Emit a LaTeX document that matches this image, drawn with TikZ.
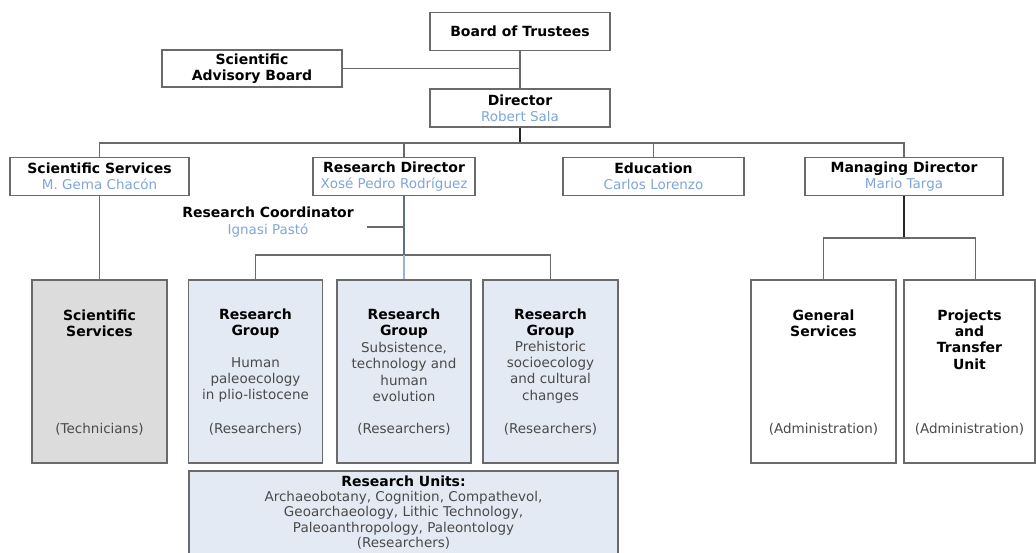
\documentclass[tikz,border=0pt]{standalone}
\usepackage{fontspec}
\setmainfont{DejaVu Sans}
\definecolor{linegray}{HTML}{6A6A6A}
\definecolor{namecol}{HTML}{7FA6D8}
\definecolor{bodycol}{HTML}{4A4A4A}
\definecolor{grayfill}{HTML}{DCDCDC}
\definecolor{bluefill}{HTML}{E4EAF3}
\definecolor{rdline}{HTML}{5F6F88}
\definecolor{rdlight}{HTML}{9DB2D0}
\newcommand{\ttlfont}{\fontsize{14}{16.2}\selectfont\bfseries}
\newcommand{\bodyfont}{\fontsize{13.5}{16.2}\selectfont}
\newcommand{\nm}[1]{{\bodyfont\mdseries\color{namecol}#1}}

\begin{document}
\begin{tikzpicture}[x = 1pt, y = -1pt,
  topbox/.style = {draw=linegray, line width=1.2pt, fill=white, minimum height=38pt, inner sep=0pt, align=center, font=\ttlfont},
  unitbox/.style = {draw=linegray, line width=1.2pt, minimum height=183pt, inner sep=0pt},
  ttl/.style = {font=\ttlfont, align=center, inner sep=0pt},
  txt/.style = {font=\bodyfont, text=bodycol, align=center, inner sep=0pt},
  conn/.style = {draw=linegray, line width=1.1pt},]

\useasboundingbox (0,0) rectangle (1036,552);

\node[topbox, minimum width=180pt] (BT) at (520,31.5) {Board of Trustees};
\node[topbox, minimum width=180pt, minimum height=37pt] (SAB) at (252,68.5) {Scientific\\Advisory Board};
\node[topbox, minimum width=180pt] (DIR) at (520,108) {Director\\\nm{Robert Sala}};
\node[topbox, minimum width=179pt] (SS) at (99.5,176.5) {Scientific Services\\\nm{M. Gema Chacón}};
\node[topbox, minimum width=162pt] (RD) at (394,176.5) {Research Director\\\nm{Xosé Pedro Rodríguez}};
\node[topbox, minimum width=181pt] (ED) at (653.5,176.5) {Education\\\nm{Carlos Lorenzo}};
\node[topbox, minimum width=198pt] (MD) at (904,176.5) {Managing Director\\\nm{Mario Targa}};
\node[ttl] (RC) at (268,222) {Research Coordinator\\\nm{Ignasi Pastó}};

\node[unitbox, fill=grayfill, minimum width=135pt] (SSB) at (99.5,371.5) {};
\node[unitbox, fill=bluefill, minimum width=134pt] (RG1) at (255.5,371.5) {};
\node[unitbox, fill=bluefill, minimum width=134pt] (RG2) at (404,371.5) {};
\node[unitbox, fill=bluefill, minimum width=135pt] (RG3) at (550.5,371.5) {};
\node[unitbox, fill=white, minimum width=145pt] (GS) at (823.5,371.5) {};
\node[unitbox, fill=white, minimum width=131pt] (PT) at (969.5,371.5) {};
\node[unitbox, fill=bluefill, minimum width=429pt, minimum height=84pt] (RU) at (403.5,513) {};

\node[ttl] (SSBt) at (99.5,323.5) {Scientific\\Services};
\node[txt] (SSBn) at (99.5,429) {(Technicians)};
\node[ttl] (RG1t) at (255.5,323.5) {Research\\Group};
\node[txt] (RG1b) at (255.5,380) {Human\\paleoecology\\in plio-listocene};
\node[txt] (RG1n) at (255.5,429) {(Researchers)};
\node[ttl] (RG2t) at (404,323.5) {Research\\Group};
\node[txt] (RG2b) at (404,372) {Subsistence,\\technology and\\human\\evolution};
\node[txt] (RG2n) at (404,429) {(Researchers)};
\node[ttl] (RG3t) at (550.5,323.5) {Research\\Group};
\node[txt] (RG3b) at (550.5,372) {Prehistoric\\socioecology\\and cultural\\changes};
\node[txt] (RG3n) at (550.5,429) {(Researchers)};
\node[ttl] (GSt) at (823.5,323.5) {General\\Services};
\node[txt] (GSn) at (823.5,429) {(Administration)};
\node[ttl] (PTt) at (969.5,339.5) {Projects\\and\\Transfer\\Unit};
\node[txt] (PTn) at (969.5,429) {(Administration)};
\node[txt, font=\fontsize{13.5}{15.2}\selectfont] (RUt) at (403.5,512.5) {{\fontsize{14}{15.2}\selectfont\bfseries\color{black}Research Units:}\\Archaeobotany, Cognition, Compathevol,\\Geoarchaeology, Lithic Technology,\\Paleoanthropology, Paleontology\\(Researchers)};

\coordinate (bus) at (520,143);
\coordinate (rj) at (404,255);
\coordinate (mj) at (904,238);
\coordinate (rc) at (367,227);

\draw[conn] (BT) -- (DIR);
\draw[conn] (SAB.east) -- (SAB.east -| BT.south);
\draw[conn, draw=black!85, line width=1.6pt] (DIR) -- (bus);
\draw[conn] (SS.north) |- (bus) -| (MD.north);
\draw[conn] (ED.north) -- (ED.north |- bus);
\draw[conn] (RG2.north |- RD.north) -- (RG2.north |- bus);
\draw[conn] (SS) -- (SSB);
\draw[conn, draw=rdline] (RG2.north |- RD.south) -- (rj);
\draw[conn] (RG1.north) |- (rj) -| (RG3.north);
\draw[conn, draw=rdlight] (rj) -- (RG2.north);
\draw[conn] (rc) -- (rc -| RG2.north);
\draw[conn, draw=black!85, line width=1.6pt] (MD) -- (mj);
\draw[conn] (GS.north) |- (mj) -| ([xshift=6pt]PT.north);

\end{tikzpicture}
\end{document}
